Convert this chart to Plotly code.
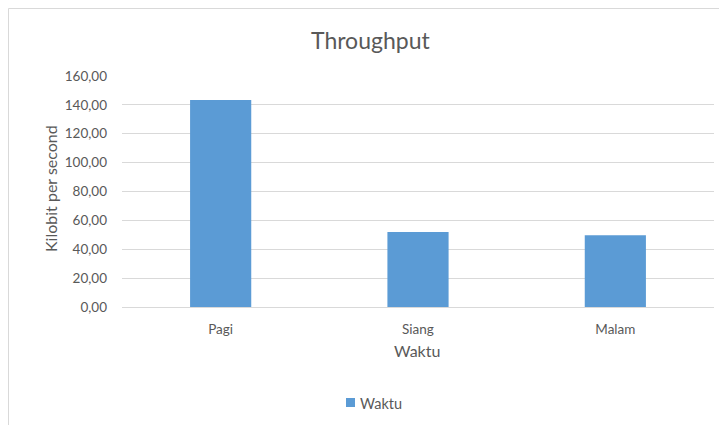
import plotly.graph_objects as go

categories = ["Pagi", "Siang", "Malam"]
values = [143.4, 51.9, 49.7]
series_name = "Waktu"
y_ticks = [0, 20, 40, 60, 80, 100, 120, 140, 160]

W, H = 719, 425
L, R, T, B = 122, 5, 76, 118
pw, ph = W - L - R, H - T - B

def px_x(x):
    return (x - L) / pw

def px_y(y):
    return (H - B - y) / ph

font = "Lato, 'Open Sans', sans-serif"
grey = "#595959"
bar_color = "#5b9bd5"

fig = go.Figure()
fig.add_trace(go.Bar(x=categories, y=values, name=series_name,
                     marker=dict(color=bar_color, line=dict(width=0)),
                     showlegend=False))

fig.update_layout(
    width=W, height=H,
    margin=dict(l=L, r=R, t=T, b=B),
    paper_bgcolor="white", plot_bgcolor="white",
    separators=",.",
    bargap=0.69,
    font=dict(family=font, color=grey, size=13),
    xaxis=dict(showgrid=False, showline=False, ticks="", ticklabelstandoff=12,
               tickfont=dict(size=13.5, color=grey), fixedrange=True),
    yaxis=dict(range=[0, 160], tickvals=y_ticks, tickformat=".2f",
               showgrid=True, gridcolor="#d9d9d9", gridwidth=1,
               zeroline=True, zerolinecolor="#d9d9d9", zerolinewidth=1,
               showline=False, ticks="", ticklabelstandoff=14,
               tickfont=dict(size=13.5, color=grey)),
    annotations=[
        dict(text="Throughput", x=px_x(370), y=px_y(40), xref="paper", yref="paper",
             showarrow=False, font=dict(size=23, color=grey), xanchor="center", yanchor="middle"),
        dict(text="Kilobit per second", x=px_x(50), y=px_y(189), xref="paper", yref="paper",
             showarrow=False, textangle=-90, font=dict(size=16, color=grey),
             xanchor="center", yanchor="middle"),
        dict(text="Waktu", x=px_x(417), y=px_y(350), xref="paper", yref="paper",
             showarrow=False, font=dict(size=16, color=grey), xanchor="center", yanchor="middle"),
        dict(text=series_name, x=px_x(358), y=px_y(403), xref="paper", yref="paper",
             showarrow=False, font=dict(size=14.5, color=grey), xanchor="left", yanchor="middle"),
    ],
    shapes=[
        dict(type="rect", xref="paper", yref="paper",
             x0=px_x(8.5), x1=px_x(740), y0=px_y(440), y1=px_y(8.5),
             line=dict(color="#d9d9d9", width=1), layer="below"),
        dict(type="rect", xref="paper", yref="paper",
             x0=px_x(346), x1=px_x(355), y0=px_y(407), y1=px_y(398),
             fillcolor=bar_color, line=dict(width=0)),
    ],
)

fig.write_html("out.html")
